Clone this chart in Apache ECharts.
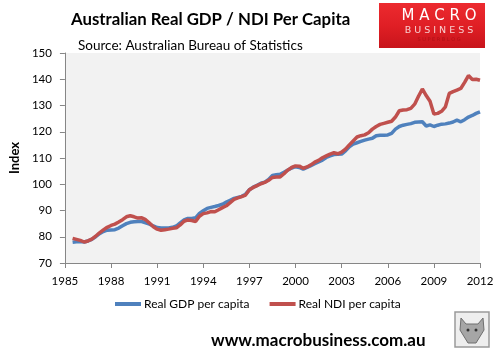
<!DOCTYPE html>
<html>
<head>
<meta charset="utf-8">
<script src="https://cdn.jsdelivr.net/npm/echarts@6/dist/echarts.min.js"></script>
<style>
  html, body { margin: 0; padding: 0; background: #fff; }
  #chart { width: 500px; height: 353px; }
</style>
</head>
<body>
<div id="chart"></div>
<script>
// quarterly series, 1985 Q3 .. 2012 Q1
var startYear = 1985;
var startQuarter = 3;
var gdpPerCapita = [
  77.9, 78.1,
  78.2, 78.0, 78.4, 79.0,
  80.0, 81.2, 82.0, 82.5,
  82.6, 82.7, 83.3, 84.2,
  85.0, 85.5, 85.7, 85.8,
  85.8, 85.3, 84.8, 84.1,
  83.5, 83.3, 83.3, 83.3,
  83.6, 84.1, 85.3, 86.4,
  87.0, 87.0, 87.2, 88.9,
  89.9, 90.8, 91.2, 91.5,
  91.9, 92.4, 93.2, 93.9,
  94.6, 95.0, 95.4, 96.2,
  97.9, 98.9, 99.6, 100.4,
  100.8, 101.8, 103.3, 103.6,
  103.8, 104.6, 105.4, 106.2,
  106.7, 106.4, 105.7, 106.4,
  107.1, 107.8, 108.5, 109.2,
  110.2, 110.8, 111.3, 111.4,
  111.5, 112.7, 114.3, 115.3,
  115.8, 116.3, 116.8, 117.2,
  117.5, 118.5, 118.7, 118.7,
  118.8, 119.4, 121.0, 122.0,
  122.5, 122.8, 123.1, 123.6,
  123.7, 123.8, 122.2, 122.6,
  122.0, 122.5, 122.9, 123.0,
  123.3, 123.7, 124.4, 123.8,
  124.6, 125.6, 126.2, 127.0,
  127.6
];
var ndiPerCapita = [
  79.4, 79.0,
  78.6, 78.0, 78.4, 79.1,
  80.2, 81.5, 82.6, 83.6,
  84.3, 84.8, 85.6, 86.5,
  87.6, 88.0, 87.6, 87.1,
  87.2, 86.5, 85.2, 83.8,
  82.9, 82.5, 82.7, 82.9,
  83.2, 83.4, 84.5, 85.9,
  86.4, 86.2, 85.8, 87.8,
  88.8, 89.1, 89.6, 89.5,
  90.3, 91.1, 91.8, 93.0,
  94.2, 94.8, 95.3, 95.9,
  97.9, 98.8, 99.5, 100.2,
  100.7, 101.5, 102.6, 102.8,
  102.8, 104.0, 105.4, 106.4,
  107.0, 106.9, 106.1, 106.6,
  107.4, 108.4, 109.1, 110.1,
  110.8, 111.5, 112.0, 111.6,
  112.2, 113.4, 115.0, 116.5,
  118.0, 118.5, 118.8, 119.6,
  121.0, 122.0, 122.8, 123.2,
  123.6, 124.0, 125.6, 128.0,
  128.3, 128.4, 128.9, 130.5,
  133.5, 136.3, 133.8, 131.6,
  126.8, 127.0, 127.8, 129.5,
  134.6, 135.3, 135.9, 136.5,
  138.8, 141.4, 139.9, 140.0,
  139.6
];
var xTickLabels = ['1985', '1988', '1991', '1994', '1997', '2000', '2003', '2006', '2009', '2012'];
var seriesNames = ['Real GDP per capita', 'Real NDI per capita'];

// category axis runs from 1985 Q1, so pad the front
var lead = startQuarter - 1;
var quarters = [];
for (var i = 0; i < lead + gdpPerCapita.length; i++) {
  var y = startYear + Math.floor(i / 4);
  quarters.push(y + ' Q' + (i % 4 + 1));
}
function pad(arr) {
  var out = [];
  for (var i = 0; i < lead; i++) out.push(null);
  return out.concat(arr);
}

var font = 'Lato, "Open Sans", sans-serif';
var axisColor = '#868686';

var myChart = echarts.init(document.getElementById('chart'));
var option = {
  backgroundColor: '#fff',
  animation: false,
  textStyle: { fontFamily: font },
  title: [
    {
      text: 'Australian Real GDP / NDI Per Capita',
      left: 66, top: 6,
      textStyle: { fontSize: 16.8, fontWeight: 'bold', color: '#000', fontFamily: font }
    },
    {
      text: 'Source: Australian Bureau of Statistics',
      left: 73, top: 34,
      textStyle: { fontSize: 13.5, fontWeight: 'normal', color: '#000', fontFamily: font }
    },
    {
      text: 'www.macrobusiness.com.au',
      left: 206, top: 327,
      textStyle: { fontSize: 17, fontWeight: 'bold', color: '#000', fontFamily: font }
    }
  ],
  grid: {
    left: 63, right: 20, top: 53, bottom: 90,
    show: true, backgroundColor: '#f2f2f2', borderWidth: 0
  },
  legend: {
    left: 115, top: 298, padding: 0,
    itemWidth: 26, itemHeight: 4, itemGap: 20,
    icon: 'rect',
    textStyle: { fontSize: 12, color: '#000', fontFamily: font, padding: [0, 0, 0, -2] },
    data: seriesNames
  },
  xAxis: {
    type: 'category',
    boundaryGap: false,
    data: quarters,
    axisLine: { lineStyle: { color: axisColor, width: 1 } },
    axisTick: {
      length: 5, interval: 11,
      lineStyle: { color: axisColor }
    },
    axisLabel: {
      interval: 11, margin: 12,
      color: '#000', fontSize: 11.5, fontFamily: font,
      formatter: function (value, index) {
        return xTickLabels[index / 12];
      }
    },
    splitLine: { show: false }
  },
  yAxis: {
    type: 'value',
    min: 70, max: 150, interval: 10,
    name: 'Index',
    nameLocation: 'middle',
    nameRotate: 90,
    nameGap: 43,
    nameTextStyle: { fontSize: 13, fontWeight: 'bold', color: '#000', fontFamily: font },
    axisLine: { show: true, lineStyle: { color: axisColor, width: 1 } },
    axisTick: { show: true, length: 5, lineStyle: { color: axisColor } },
    axisLabel: { margin: 13, color: '#000', fontSize: 11.5, fontFamily: font },
    splitLine: { show: false }
  },
  series: [
    {
      name: seriesNames[0],
      type: 'line',
      data: pad(gdpPerCapita),
      symbol: 'none',
      color: '#4f81bd',
      lineStyle: { width: 3.5, color: '#4f81bd' }
    },
    {
      name: seriesNames[1],
      type: 'line',
      data: pad(ndiPerCapita),
      symbol: 'none',
      color: '#c0504d',
      lineStyle: { width: 3.5, color: '#c0504d' }
    }
  ],
  graphic: [
    // MacroBusiness badge
    {
      type: 'rect',
      shape: { x: 379, y: 3, width: 106, height: 45 },
      style: {
        fill: new echarts.graphic.LinearGradient(0, 0, 0, 1, [
          { offset: 0, color: '#ec2a2f' },
          { offset: 0.5, color: '#e01f25' },
          { offset: 1, color: '#c8141b' }
        ])
      }
    },
    {
      type: 'text',
      style: {
        x: 439, y: 16, text: 'M A C R O', align: 'center', verticalAlign: 'middle',
        fill: '#fff', fontSize: 15, fontFamily: 'DejaVu Sans', fontWeight: 'normal'
      }
    },
    {
      type: 'text',
      style: {
        x: 439, y: 31, text: 'B U S I N E S S', align: 'center', verticalAlign: 'middle',
        fill: '#f8d0d0', fontSize: 9.5, fontFamily: 'DejaVu Sans'
      }
    },
    {
      type: 'text',
      style: {
        x: 439, y: 40, text: 'S U P E R B L O G', align: 'center', verticalAlign: 'middle',
        fill: '#b01016', fontSize: 5, fontFamily: 'DejaVu Sans'
      }
    },
    // wolf badge
    {
      type: 'rect',
      shape: { x: 455, y: 312, width: 34, height: 35 },
      style: { fill: '#eeeeee', stroke: '#9a9a9a', lineWidth: 1.5 }
    },
    {
      type: 'polygon',
      shape: { points: [[461, 318], [466, 324], [478, 324], [483, 318], [484, 330], [476, 343], [468, 343], [460, 330]] },
      style: { fill: '#a6a6a6', stroke: '#6e6e6e', lineWidth: 1 }
    },
    {
      type: 'circle',
      shape: { cx: 468, cy: 330, r: 1.5 },
      style: { fill: '#333' }
    },
    {
      type: 'circle',
      shape: { cx: 476, cy: 330, r: 1.5 },
      style: { fill: '#333' }
    }
  ]
};
myChart.setOption(option, true);
</script>
</body>
</html>
